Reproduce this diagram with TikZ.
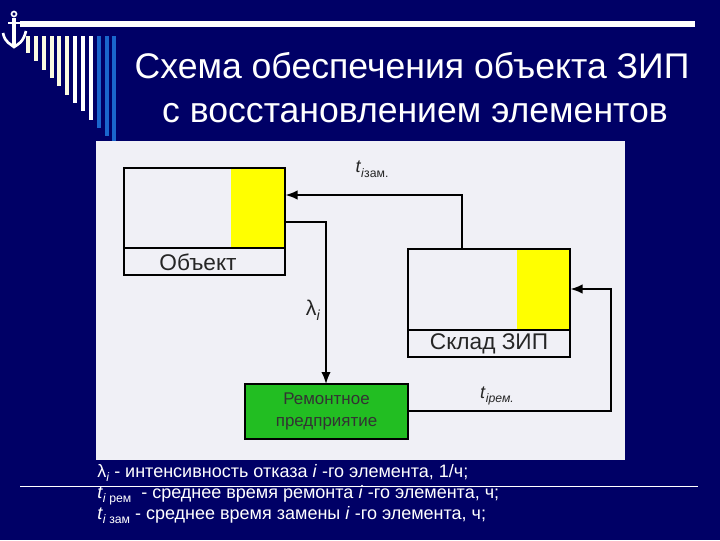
\documentclass[tikz,border=0pt]{standalone}
\usepackage{fontspec}
\setmainfont{Liberation Sans}
\usetikzlibrary{calc}
\usetikzlibrary{arrows.meta}
\definecolor{bgnavy}{RGB}{0,0,102}
\definecolor{panelgrey}{RGB}{240,240,246}
\definecolor{barblue}{RGB}{26,102,204}
\definecolor{barcream}{RGB}{250,250,225}
\definecolor{boxyellow}{RGB}{255,255,0}
\definecolor{boxgreen}{RGB}{34,190,34}
\newcommand\subidx[1]{\raisebox{-0.25em}{\scalebox{0.68}{#1}}}
\tikzset{
  titletext/.style={text=white,font=\fontsize{26.7pt}{30pt}\selectfont,inner sep=0pt},
  notetext/.style={text=white,font=\fontsize{13.5pt}{15pt}\selectfont,inner sep=0pt,anchor=base west},
  boxlabel/.style={text=black!85,font=\fontsize{17pt}{20pt}\selectfont,inner sep=0pt},
  linklabel/.style={text=black!85,font=\fontsize{13.5pt}{16pt}\selectfont,inner sep=0pt},
  frame/.style={draw=black,line width=1.5pt,inner sep=0pt,outer sep=0pt,minimum width=#1},
  link/.style={draw=black,line width=1.2pt},
  tip/.style={-{Latex[length=9pt,width=7pt]}}
}
\begin{document}
\begin{tikzpicture}[x=0.75pt,y=-0.75pt]
\useasboundingbox (0,0) rectangle (720,540);
\fill[bgnavy] (0,0) rectangle (720,540);

% bars top left
\fill[white] (20,21) rectangle (695,27);
\foreach \xbar/\ybar/\cbar in {28/53/barcream,36/61/barcream,44/70/barcream,52/78/barcream,59/86/barcream,67/95/barcream,75/103/white,83/111/white,91/120/white,99/128/barblue,107/136/barblue,114/142/barblue}
  \fill[\cbar] (\xbar-2,36) rectangle (\xbar+2,\ybar);

% anchor
\draw[white,line width=1.2pt] (14,14) circle (2.5);
\draw[white,line width=2.4pt] (14,18) -- (14,46);
\draw[white,line width=1.6pt] (8,23) -- (20,23);
\draw[white,line width=2pt] (3,33) .. controls (5,43) and (11,44) .. (14,47) .. controls (18,44) and (23,43) .. (26,31);

\node[titletext] (title1) at (412,66) {Схема обеспечения объекта ЗИП};
\node[titletext] (title2) at (415,113) {с восстановлением элементов};

\fill[panelgrey] (96,141) rectangle (625,460);

% boxes
\fill[boxyellow] (231,168) rectangle (285,248);
\draw[black,line width=1.2pt] (124,248) -- (285,248);
\node[frame=161*0.75pt,minimum height=107*0.75pt,anchor=north west] (obj) at (124,168) {};
\node[boxlabel] (objlabel) at (198,262) {Объект};

\fill[boxyellow] (517,249) rectangle (570,330);
\draw[black,line width=1.2pt] (408,330) -- (570,330);
\node[frame=162*0.75pt,minimum height=108*0.75pt,anchor=north west] (store) at (408,249) {};
\node[boxlabel] (storelabel) at (489,344) {Склад ЗИП};

\node[frame=163*0.75pt,minimum height=55*0.75pt,fill=boxgreen,anchor=north west,align=center,text=black!80,font=\fontsize{12.7pt}{16.5pt}\selectfont] (repair) at (245,384) {Ремонтное\\предприятие};

% links
\coordinate (storeout) at (462,249);
\coordinate (objin) at (285.5,195);
\coordinate (objout) at (285.5,222);
\coordinate (repairin) at (326,384);
\coordinate (repairout) at (408,411);
\coordinate (storein) at (570.5,289);
\draw[link,tip] (storeout) |- (objin);
\draw[link,tip] (objout) -| (repairin);
\draw[link,tip] (repairout) -| (611,289) -- (storein);

\node[linklabel] (tzam) at (372,169) {\textit{t}\subidx{\textit{i}зам.}};
\node[linklabel,font=\fontsize{16pt}{18pt}\selectfont] (lam) at (313,310) {λ\subidx{\textit{i}}};
\node[linklabel] (trem) at (497,396) {\textit{t}\subidx{\textit{iрем.}}};

% notes
\draw[white,line width=0.6pt] (20,486) -- (698,486);
\node[notetext] (note1) at (97,477) {λ\subidx{\textit{i}} - интенсивность отказа \textit{i} -го элемента, 1/ч;};
\node[notetext] (note2) at (97,498) {\textit{t}\subidx{\textit{i} рем} ~- среднее время ремонта \textit{i} -го элемента, ч;};
\node[notetext] (note3) at (97,519) {\textit{t}\subidx{\textit{i} зам} - среднее время замены \textit{i} -го элемента, ч;};
\end{tikzpicture}
\end{document}
